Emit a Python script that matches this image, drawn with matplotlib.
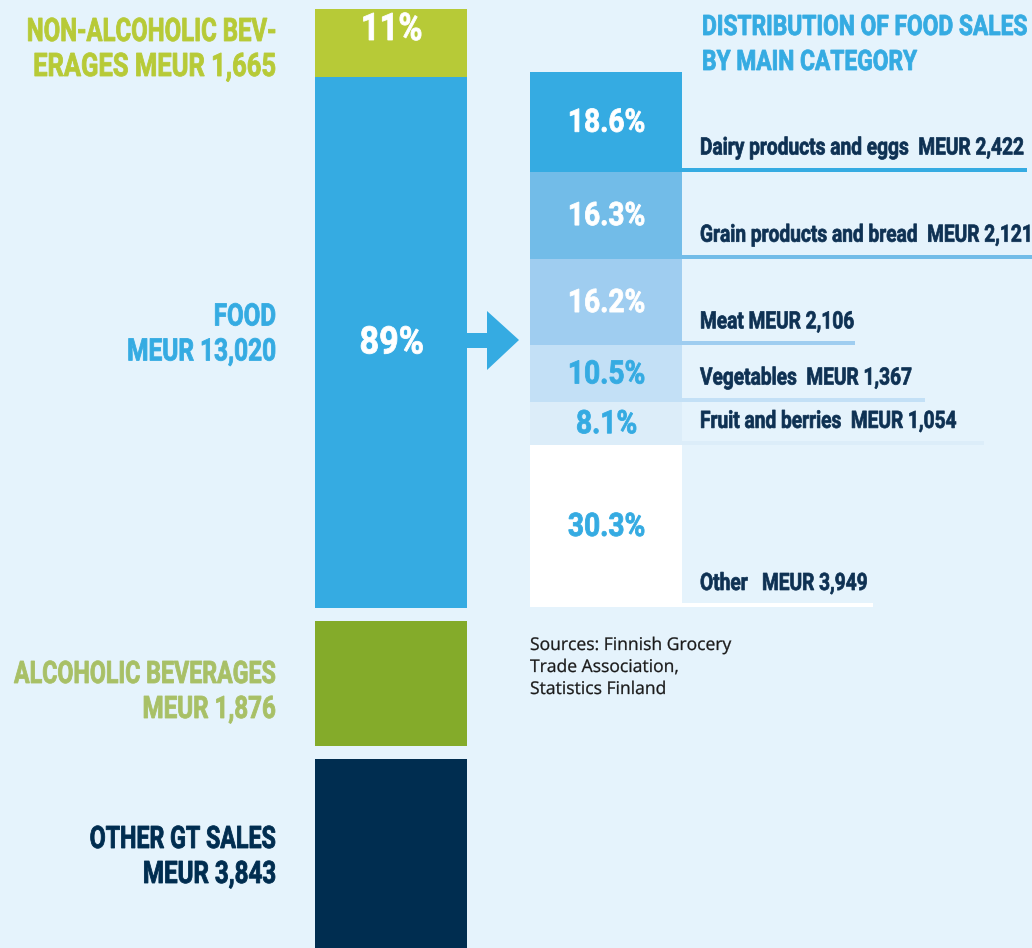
import numpy as np
import matplotlib
matplotlib.use("Agg")
import matplotlib.pyplot as plt
from matplotlib.font_manager import FontProperties
from matplotlib.textpath import TextPath
from matplotlib.patches import PathPatch, Polygon
from matplotlib.transforms import Affine2D

# ---- data ----
gt_labels = ["NON-ALCOHOLIC BEV-\nERAGES MEUR 1,665", "FOOD\nMEUR 13,020",
             "ALCOHOLIC BEVERAGES\nMEUR 1,876", "OTHER GT SALES\nMEUR 3,843"]
gt_values = [1665, 13020, 1876, 3843]          # MEUR

food_cats = ["Dairy products and eggs", "Grain products and bread", "Meat",
             "Vegetables", "Fruit and berries", "Other"]
food_pct = [18.6, 16.3, 16.2, 10.5, 8.1, 30.3]
food_meur = ["2,422", "2,121", "2,106", "1,367", "1,054", "3,949"]
food_sep = ["  ", "  ", " ", "  ", "  ", "   "]

title = ["DISTRIBUTION OF FOOD SALES", "BY MAIN CATEGORY"]
sources = ["Sources: Finnish Grocery", "Trade Association,", "Statistics Finland"]

# ---- style ----
W, H = 1032, 948
BG = "#e5f3fc"
BLUE = "#35abe2"
NAVY = "#002d50"
TXT = "#0e3153"
gt_colors = ["#b7ca37", BLUE, "#84ab2a", NAVY]
gt_text_colors = ["#b7ca37", BLUE, "#a8c066", NAVY]
food_colors = ["#35abe2", "#72bce8", "#9fcdf0", "#c3e0f6", "#dcedf9", "#ffffff"]
pct_text_colors = ["white", "white", "white", BLUE, BLUE, BLUE]
line_end = [1027, 1032, 855, 925, 984, 873]

BOLD = FontProperties(family="Roboto", weight="bold")
REG = FontProperties(family="Open Sans")

fig = plt.figure(figsize=(W / 100, H / 100), dpi=100, facecolor=BG)


def px_axes(x0, y0, x1, y1):
    a = fig.add_axes([x0 / W, 1 - y1 / H, (x1 - x0) / W, (y1 - y0) / H])
    a.set_axis_off()
    return a


def ctext(x, y, s, cap, color, ha="left", sx=0.8, fp=BOLD, capr=0.711, lw=0.6):
    # condensed text, x/y in pixels from top-left, y is the baseline
    tp = TextPath((0, 0), s, size=cap / capr, prop=fp)
    w = tp.get_extents().x1 * sx
    if ha == "right":
        x -= w
    elif ha == "center":
        x -= w / 2
    tr = Affine2D().scale(sx, 1).translate(x, H - y)
    fig.add_artist(PathPatch(tp, transform=tr, fc=color, ec=color, lw=lw))


def to_px(ax, x, y):
    dx, dy = ax.transData.transform((x, y))
    return dx, H - dy


# full-figure pixel axes for the loose blocks and arrow
ax0 = px_axes(0, 0, W, H)
ax0.set_xlim(0, W)
ax0.set_ylim(H, 0)

# left column: non-alcoholic + food stacked to scale
BX0, BX1 = 315, 467
axl = px_axes(BX0, 9, BX1, 608)
top_total = gt_values[0] + gt_values[1]
axl.set_xlim(0, 1)
axl.set_ylim(top_total, 0)
bottoms = [0, gt_values[0]]
axl.bar(0.5, gt_values[:2], bottom=bottoms, width=1, color=gt_colors[:2])

xc = (BX0 + BX1) / 2
shares = [v / top_total * 100 for v in gt_values[:2]]
# 11 %
_, y_top = to_px(axl, 0.5, 0)
ctext(xc, y_top + 31, "%d%%" % round(shares[0]), 27, "white", ha="center", sx=0.86)
# 89 %
_, yc = to_px(axl, 0.5, bottoms[1] + gt_values[1] / 2)
ctext(xc, yc + 11, "%d%%" % round(shares[1]), 27, "white", ha="center", sx=0.9)

# left labels
LX = 275
LSX = 0.75
l1, l2 = gt_labels[0].split("\n")
ctext(LX, 41, l1, 23, gt_text_colors[0], ha="right", sx=0.74)
ctext(LX, 76, l2, 23, gt_text_colors[0], ha="right", sx=0.79)
l1, l2 = gt_labels[1].split("\n")
ctext(LX, yc - 17, l1, 22, gt_text_colors[1], ha="right", sx=0.78)
ctext(LX, yc + 18, l2, 22, gt_text_colors[1], ha="right", sx=0.79)

# alcoholic + other GT sales blocks (not drawn to scale in the original)
blocks = [(621, 125), (759, 200)]
label_base = [683, 848]
for i, (b, h) in enumerate(blocks):
    ax0.bar(xc, h, bottom=b, width=BX1 - BX0, color=gt_colors[i + 2])
    l1, l2 = gt_labels[i + 2].split("\n")
    ctext(LX, label_base[i], l1, 22, gt_text_colors[i + 2], ha="right", sx=LSX)
    ctext(LX, label_base[i] + 35, l2, 22, gt_text_colors[i + 2], ha="right", sx=0.78)

# arrow
arrow = [(467, 333), (487, 333), (487, 311), (519, 340), (487, 370),
         (487, 348), (467, 348)]
ax0.add_patch(Polygon(arrow, closed=True, fc=BLUE, ec="none"))

# right column: food split to scale
RX0, RX1 = 530, 682
axr = px_axes(RX0, 72, W, 607)
axr.set_xlim(RX0, W)
axr.set_ylim(100, 0)
px_per_pct = (607 - 72) / 100
cum = np.concatenate([[0], np.cumsum(food_pct)[:-1]])
for i in range(len(food_pct)):
    bot = cum[i] + food_pct[i]
    yline = bot - 2 / px_per_pct
    axr.hlines(yline, 656, line_end[i], color=food_colors[i], lw=4 * 0.72, zorder=1)
axr.bar((RX0 + RX1) / 2, food_pct, bottom=cum, width=RX1 - RX0,
        color=food_colors, zorder=2)

for i in range(len(food_pct)):
    _, ymid = to_px(axr, RX0, cum[i] + food_pct[i] / 2)
    _, ybot = to_px(axr, RX0, cum[i] + food_pct[i])
    ctext((RX0 + RX1) / 2, ymid + 10, "%.1f%%" % food_pct[i], 23,
          pct_text_colors[i], ha="center", sx=0.87)
    ctext(700, ybot - 17, food_cats[i] + food_sep[i] + "MEUR " + food_meur[i],
          17, TXT, sx=0.8, lw=0.5)

# title
ctext(702, 35, title[0], 20, BLUE, sx=0.81)
ctext(702, 70, title[1], 20, BLUE, sx=0.81)

# sources
for i, s in enumerate(sources):
    ctext(530, 650 + 22 * i, s, 12.5, "#1a1a1a", sx=1.0, fp=REG, capr=0.714, lw=0.2)

fig.savefig("out.png", dpi=100, facecolor=BG)
